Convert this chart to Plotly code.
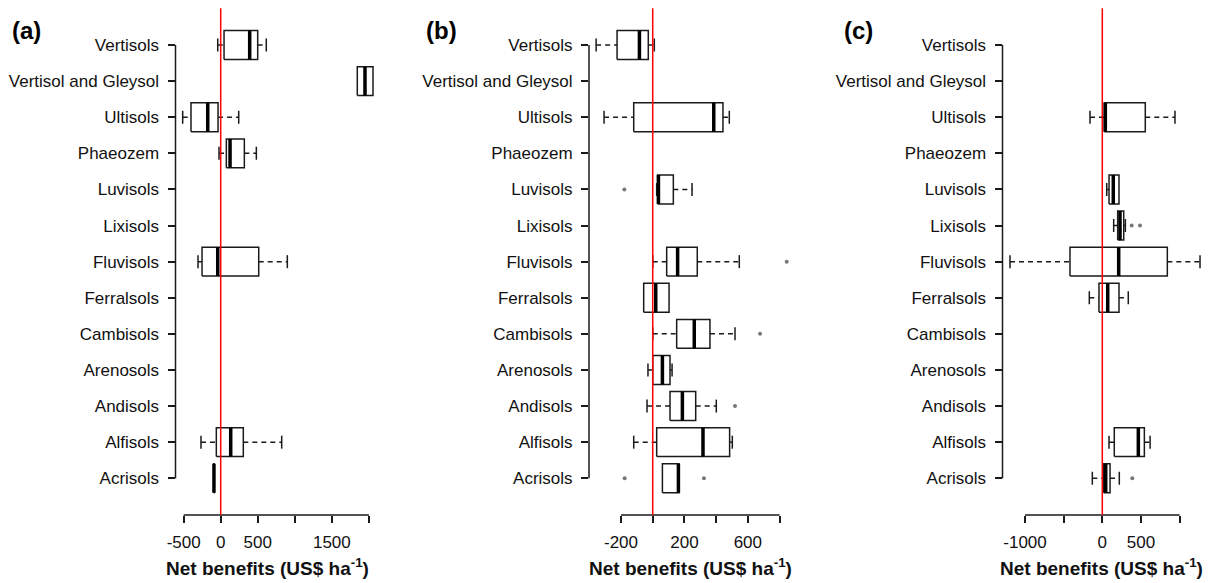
import plotly.graph_objects as go

# ---------------- data ----------------
soils = ["Vertisols", "Vertisol and Gleysol", "Ultisols", "Phaeozem", "Luvisols",
         "Lixisols", "Fluvisols", "Ferralsols", "Cambisols", "Arenosols",
         "Andisols", "Alfisols", "Acrisols"]  # top to bottom

# panel (a)
a_lo  = [-40, 1843, -513, -23, None, None, -306, None, None, None, None, -266, -93]
a_q1  = [45, 1843, -401, 76, None, None, -252, None, None, None, None, -59, -93]
a_med = [391, 1947, -175, 126, None, None, -40, None, None, None, None, 135, -91]
a_q3  = [499, 2055, -36, 319, None, None, 513, None, None, None, None, 305, -89]
a_hi  = [615, 2055, 243, 481, None, None, 899, None, None, None, None, 823, -89]
a_out_soil = []
a_out_val = []

# panel (b)
b_lo  = [-357, None, -307, None, 25, None, 0, -57, 0, -30, -36, -120, 61]
b_q1  = [-225, None, -120, None, 31, None, 88, -57, 151, 0, 109, 25, 61]
b_med = [-84, None, 385, None, 36, None, 157, 19, 262, 61, 187, 317, 162]
b_q3  = [-28, None, 443, None, 130, None, 281, 103, 361, 109, 271, 485, 166]
b_hi  = [10, None, 483, None, 248, None, 546, 103, 519, 122, 401, 502, 166]
b_out_soil = ["Luvisols", "Fluvisols", "Cambisols", "Andisols", "Acrisols", "Acrisols"]
b_out_val = [-179, 845, 677, 519, -177, 323]

# panel (c)
c_lo  = [None, None, -159, None, 57, 147, -1194, -168, None, None, None, 87, -129]
c_q1  = [None, None, 26, None, 87, 199, -418, -43, None, None, None, 155, 18]
c_med = [None, None, 39, None, 142, 229, 212, 70, None, None, None, 466, 44]
c_q3  = [None, None, 556, None, 216, 277, 841, 216, None, None, None, 544, 100]
c_hi  = [None, None, 940, None, 216, 298, 1264, 336, None, None, None, 618, 220]
c_out_soil = ["Lixisols", "Lixisols", "Acrisols"]
c_out_val = [380, 488, 388]

panel_labels = ["(a)", "(b)", "(c)"]
a_ticks = [-500, 0, 500, 1000, 1500, 2000]
a_labels = [-500, 0, 500, 1500]
b_ticks = [-200, 0, 200, 400, 600, 800]
b_labels = [-200, 200, 600]
c_ticks = [-1000, -500, 0, 500, 1000]
c_labels = [-1000, 0, 500]
x_title = "Net benefits (US$ ha<sup>-1</sup>)"

# ---------------- layout geometry ----------------
W, H = 1220, 583
FONT = "Liberation Sans, Arial, sans-serif"
n = len(soils)
ypos = {s: n - i for i, s in enumerate(soils)}

panels = [
    dict(lo=a_lo, q1=a_q1, med=a_med, q3=a_q3, hi=a_hi, os=a_out_soil, ov=a_out_val,
         ticks=a_ticks, labels=a_labels, px=(175.5, 381.0), rng=(-610, 2163),
         label_x=10, title_x=267),
    dict(lo=b_lo, q1=b_q1, med=b_med, q3=b_q3, hi=b_hi, os=b_out_soil, ov=b_out_val,
         ticks=b_ticks, labels=b_labels, px=(589.0, 794.3), rng=(-402, 893),
         label_x=424, title_x=690),
    dict(lo=c_lo, q1=c_q1, med=c_med, q3=c_q3, hi=c_hi, os=c_out_soil, ov=c_out_val,
         ticks=c_ticks, labels=c_labels, px=(1002.5, 1207.6), rng=(-1291, 1362),
         label_x=842, title_x=1101),
]

y_dom = [(H - 515.1) / H, (H - 8.2) / H]
HALF = 0.4
CAP = 0.18
LINE = "#1a1a1a"

fig = go.Figure()
shapes = []
annotations = []

for k, p in enumerate(panels):
    xa = "x" if k == 0 else f"x{k+1}"
    ya = "y" if k == 0 else f"y{k+1}"
    bx, by, wx, wy, cx, cy, mx, my = [], [], [], [], [], [], [], []
    for i, s in enumerate(soils):
        if p["med"][i] is None:
            continue
        y = ypos[s]
        lo, q1, md, q3, hi = p["lo"][i], p["q1"][i], p["med"][i], p["q3"][i], p["hi"][i]
        bx += [q1, q3, q3, q1, q1, None]
        by += [y - HALF, y - HALF, y + HALF, y + HALF, y - HALF, None]
        mx += [md, md, None]
        my += [y - HALF, y + HALF, None]
        if lo < q1:
            wx += [lo, q1, None]
            wy += [y, y, None]
            cx += [lo, lo, None]
            cy += [y - CAP, y + CAP, None]
        if hi > q3:
            wx += [q3, hi, None]
            wy += [y, y, None]
            cx += [hi, hi, None]
            cy += [y - CAP, y + CAP, None]
    fig.add_trace(go.Scatter(x=wx, y=wy, mode="lines", xaxis=xa, yaxis=ya,
                             line=dict(color=LINE, width=1.5, dash="5px,4px"),
                             hoverinfo="skip", showlegend=False))
    fig.add_trace(go.Scatter(x=cx, y=cy, mode="lines", xaxis=xa, yaxis=ya,
                             line=dict(color=LINE, width=1.5),
                             hoverinfo="skip", showlegend=False))
    fig.add_trace(go.Scatter(x=bx, y=by, mode="lines", xaxis=xa, yaxis=ya,
                             line=dict(color=LINE, width=1.5),
                             hoverinfo="skip", showlegend=False))
    fig.add_trace(go.Scatter(x=mx, y=my, mode="lines", xaxis=xa, yaxis=ya,
                             line=dict(color="#000000", width=3.5),
                             hoverinfo="skip", showlegend=False))
    if p["ov"]:
        fig.add_trace(go.Scatter(x=p["ov"], y=[ypos[s] for s in p["os"]], mode="markers",
                                 xaxis=xa, yaxis=ya,
                                 marker=dict(color="#777777", size=4),
                                 hoverinfo="skip", showlegend=False))

    dom = [p["px"][0] / W, p["px"][1] / W]
    axis_common = dict(showgrid=False, zeroline=False, showline=False, automargin=False,
                       ticks="outside", ticklen=7, tickwidth=1.5, tickcolor=LINE,
                       tickfont=dict(family=FONT, size=17, color="#111111"))
    fig.update_layout(**{
        ("xaxis" if k == 0 else f"xaxis{k+1}"): dict(
            domain=dom, range=list(p["rng"]), anchor=ya,
            tickmode="array", tickvals=p["labels"],
            ticktext=[str(v) for v in p["labels"]], ticklabelstandoff=4,
            minor=dict(tickmode="array", tickvals=p["ticks"], ticks="outside",
                       ticklen=7, tickwidth=1.5, tickcolor=LINE, showgrid=False),
            **axis_common),
        ("yaxis" if k == 0 else f"yaxis{k+1}"): dict(
            domain=y_dom, range=[-0.02, n + 1.02], anchor=xa,
            tickmode="array", tickvals=[ypos[s] for s in soils], ticktext=soils,
            ticklabelstandoff=5, **axis_common),
    })
    # axis lines spanning first to last tick (R style)
    shapes.append(dict(type="line", xref=f"{xa} domain", yref=ya,
                       x0=0, x1=0, y0=1, y1=n, line=dict(color=LINE, width=1.5)))
    shapes.append(dict(type="line", xref=xa, yref=f"{ya} domain",
                       x0=p["ticks"][0], x1=p["ticks"][-1], y0=0, y1=0,
                       line=dict(color=LINE, width=1.5)))
    # zero reference line
    shapes.append(dict(type="line", xref=xa, yref=f"{ya} domain",
                       x0=0, x1=0, y0=0, y1=1, line=dict(color="#ff0000", width=1.5)))
    annotations.append(dict(text=f"<b>{panel_labels[k]}</b>", xref="paper", yref="paper",
                            x=p["label_x"] / W, y=(H - 30) / H, xanchor="left",
                            yanchor="middle", showarrow=False,
                            font=dict(family=FONT, size=24, color="#000000")))
    annotations.append(dict(text=f"<b>{x_title}</b>", xref="paper", yref="paper",
                            x=p["title_x"] / W, y=(H - 567) / H, xanchor="center",
                            yanchor="middle", showarrow=False,
                            font=dict(family=FONT, size=19, color="#111111")))

fig.update_layout(width=W, height=H, margin=dict(l=0, r=0, t=0, b=0),
                  plot_bgcolor="white", paper_bgcolor="white",
                  shapes=shapes, annotations=annotations, showlegend=False)

fig.write_html("out.html")
